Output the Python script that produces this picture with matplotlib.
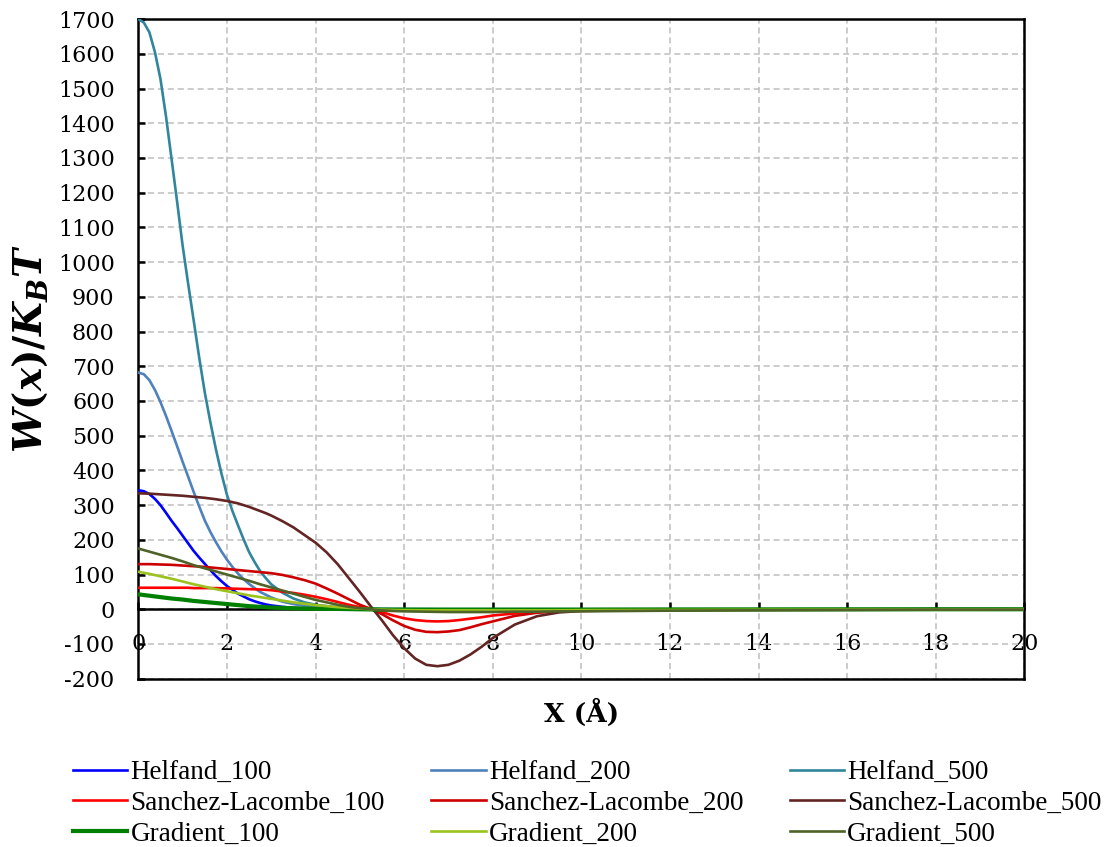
import matplotlib
matplotlib.use("Agg")
import matplotlib.pyplot as plt

# Sample positions along the interfacial coordinate (Å)
x = [0, 0.125, 0.25, 0.375, 0.5, 0.625, 0.75, 0.875, 1.0, 1.125, 1.25, 1.375,
     1.5, 1.625, 1.75, 1.875, 2.0, 2.125, 2.25, 2.375, 2.5, 2.625, 2.75, 2.875,
     3.0, 3.25, 3.5, 3.75, 4.0, 4.25, 4.5, 4.75, 5.0, 5.25, 5.5, 5.75, 6.0,
     6.25, 6.5, 6.75, 7.0, 7.25, 7.5, 7.75, 8.0, 8.5, 9.0, 9.5, 10, 11, 12,
     14, 16, 18, 20]

helfand_100 = [343, 340, 332, 318, 300, 278, 255, 234, 212, 190, 168, 149,
               131, 113, 96, 81, 67, 56, 45, 37, 29, 23, 18, 14,
               11, 7, 4, 2.5, 1.5, 1, 0.5, 0.3, 0.2, 0.1, 0, 0, 0,
               0, 0, 0, 0, 0, 0, 0, 0, 0, 0, 0, 0, 0, 0,
               0, 0, 0, 0]
helfand_200 = [682, 677, 660, 632, 597, 557, 514, 470, 425, 382, 338, 296,
               256, 223, 194, 167, 143, 122, 103, 87, 73, 61, 50, 42,
               34, 22, 15, 10, 7, 5, 3, 2, 1.5, 1, 0.6, 0.4, 0.3,
               0.2, 0.1, 0, 0, 0, 0, 0, 0, 0, 0, 0, 0, 0, 0,
               0, 0, 0, 0]
helfand_500 = [1700, 1690, 1662, 1605, 1528, 1420, 1298, 1175, 1048, 938, 832, 725,
               625, 540, 462, 392, 330, 283, 242, 202, 165, 136, 110, 90,
               72, 48, 31, 20, 13, 9, 6, 4, 2.5, 1.5, 1, 0.6, 0.4,
               0.3, 0.2, 0.1, 0, 0, 0, 0, 0, 0, 0, 0, 0, 0, 0,
               0, 0, 0, 0]
sanchez_lacombe_100 = [62, 62, 62, 62, 62, 62, 62, 62, 62, 62, 61, 61,
                       61, 61, 61, 60.5, 60, 59.5, 59, 58.5, 58, 57.5, 57, 56,
                       55, 51, 47, 42, 36, 29, 21, 13, 6, 0, -8, -18, -26,
                       -31, -34, -35, -34, -31, -27, -23, -18, -12, -8, -5, -3, -2, -1,
                       -0.5, 0, 0, 0]
sanchez_lacombe_200 = [130, 130, 130, 129.5, 129, 128.5, 128, 127, 126, 125, 124, 123,
                       122, 120.5, 119, 117.5, 116, 114.5, 113, 111.5, 110, 108.5, 107, 105.5,
                       104, 99, 92, 84, 74, 60, 45, 29, 13, 1, -14, -32, -48,
                       -59, -65, -66, -64, -60, -52, -43, -35, -19, -10, -6, -4, -2, -1.5,
                       -1, -0.5, 0, 0]
sanchez_lacombe_500 = [334, 333.5, 333, 332, 331, 330, 329, 328, 327, 325.5, 324, 322.5,
                       321, 319, 317, 314.5, 312, 308.5, 305, 300, 295, 289, 283, 277,
                       270, 254, 236, 214, 192, 164, 130, 90, 50, 8, -32, -75, -112,
                       -142, -160, -164, -160, -148, -130, -108, -83, -44, -20, -9, -5, -3, -2,
                       -1, -0.5, 0, 0]
gradient_100 = [43, 41, 39, 37, 35, 33, 31, 29.5, 28, 26, 24, 22.5,
                21, 19.5, 18, 16.5, 15, 13.5, 12, 10.5, 9, 8, 7, 6,
                5, 4, 3, 2, 1.5, 1.2, 1, 0.5, 0, -0.5, -1, -1, -1,
                -1, -1, -1, -1, -1, -1, -1, -1, -1, -1, -1, -1, -0.8, -0.6,
                -0.4, -0.2, 0, 0]
gradient_200 = [108, 105, 102, 98.5, 95, 91.5, 88, 84, 80, 76, 72, 68.5,
                65, 61.5, 58, 55, 52, 49, 46, 43, 40, 37.5, 35, 32.5,
                30, 25, 20, 16, 12, 9, 6, 4, 2, 0, -1, -2, -2.5,
                -2.8, -3, -3, -3, -3, -3, -3, -3, -3, -3, -2.8, -2.5, -2.2, -2,
                -1.5, -1, -0.5, 0]
gradient_500 = [175, 170.5, 166, 161.5, 157, 152.5, 148, 143, 138, 132.5, 127, 122.5,
                118, 113.5, 109, 104.5, 100, 95.5, 91, 86.5, 82, 77, 72, 67.5,
                63, 54, 45, 36, 27, 20, 13, 7, 3, 0, -3, -5, -6,
                -6.5, -7, -7.5, -8, -8, -8, -8, -8, -7, -7, -6, -6, -5, -4,
                -3, -2, -1, -1]

labels = ["Helfand_100", "Helfand_200", "Helfand_500",
          "Sanchez-Lacombe_100", "Sanchez-Lacombe_200", "Sanchez-Lacombe_500",
          "Gradient_100", "Gradient_200", "Gradient_500"]
series = [helfand_100, helfand_200, helfand_500,
          sanchez_lacombe_100, sanchez_lacombe_200, sanchez_lacombe_500,
          gradient_100, gradient_200, gradient_500]
colors = ["#0000FF", "#4F81BD", "#31859C",
          "#FF0000", "#CC0000", "#632523",
          "#008000", "#9BC31E", "#4F6228"]
widths = [1.9, 1.9, 1.9, 1.9, 1.9, 1.9, 3.0, 1.9, 1.9]

x_ticks = list(range(0, 21, 2))
y_ticks = list(range(-200, 1701, 100))

plt.rcParams["axes.unicode_minus"] = False
plt.rcParams["mathtext.fontset"] = "custom"
plt.rcParams["mathtext.it"] = "DejaVu Serif:bold:italic"
plt.rcParams["mathtext.rm"] = "DejaVu Serif:bold"
plt.rcParams["mathtext.bf"] = "DejaVu Serif:bold"

fig = plt.figure(figsize=(11.04, 8.47), dpi=100)
left, right = 138.3 / 1104, 1024.3 / 1104
top, bottom = 1 - 19.1 / 847, 1 - 678.7 / 847
ax = fig.add_axes([left, bottom, right - left, top - bottom])

lines = []
for ys, lab, c, lw in zip(series, labels, colors, widths):
    ln, = ax.plot(x, ys, color=c, lw=lw, label=lab, zorder=3)
    lines.append(ln)

ax.set_xlim(0, 20)
ax.set_ylim(-200, 1700)
ax.set_xticks(x_ticks)
ax.set_yticks(y_ticks)

ax.grid(True, color="#BFBFBF", linestyle=(0, (4, 2.5)), lw=1.1, zorder=0)
ax.set_axisbelow(True)

spine_lw = 1.8
for s in ax.spines.values():
    s.set_linewidth(spine_lw)
    s.set_color("black")
ax.spines["bottom"].set_position(("data", 0))
ax.spines["bottom"].set_zorder(2.5)
# frame edge along the lower limit of the value axis
ax.axhline(-200, color="black", lw=spine_lw, clip_on=False, zorder=4)

ax.tick_params(axis="both", direction="in", length=5, width=spine_lw, color="black")
ax.tick_params(axis="x", pad=17)
ax.tick_params(axis="y", pad=17)
for t in ax.get_xticklabels() + ax.get_yticklabels():
    t.set_fontfamily("DejaVu Serif")
    t.set_fontsize(16)

ax.set_xlabel("X (Å)", fontfamily="DejaVu Serif", fontweight="bold", fontsize=19)
ax.xaxis.label.set_va("center")
ax.xaxis.set_label_coords(0.5, (678.7 - 713) / 659.6)

ax.set_ylabel(r"$W(x)/K_BT$", fontsize=28)
ax.yaxis.label.set_va("center")
ax.yaxis.set_label_coords((30 - 138.3) / 886, 0.5)

# three columns filled row by row
order = [0, 3, 6, 1, 4, 7, 2, 5, 8]
leg = fig.legend([lines[i] for i in order], [labels[i] for i in order],
                 loc="upper left", bbox_to_anchor=(73 / 1104, 1 - 760 / 847),
                 ncol=3, frameon=False, borderpad=0, borderaxespad=0,
                 handlelength=2.0, handletextpad=0.12, columnspacing=1.72,
                 labelspacing=0.22,
                 prop={"family": "Liberation Serif", "size": 19.5})

fig.savefig("out.png", dpi=100)
